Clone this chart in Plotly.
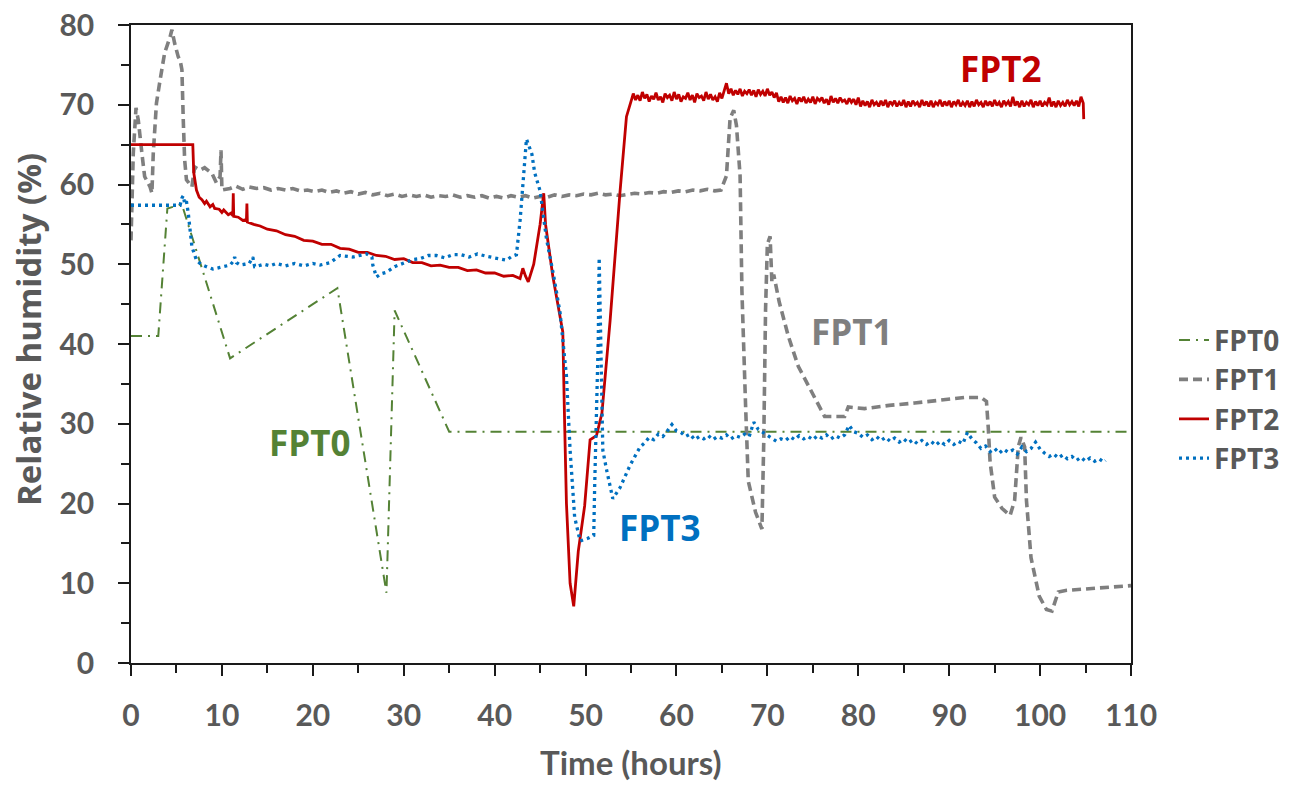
import plotly.graph_objects as go

# ---------------- data: (time in hours, relative humidity %) ----------------
fpt0_pts = [(0, 41), (3, 41), (4, 57), (5.6, 57.5), (10.9, 38.2), (22.7, 47), (28.1, 8.8),
            (29, 44.2), (35, 29), (110, 29)]

fpt1_pts = [(0, 53), (0.25, 63.9), (0.55, 69.6), (0.8, 68.1), (1.2, 63.9), (1.5, 61), (2.1, 59.7),
            (2.3, 58.9), (2.45, 63.9), (2.8, 70.2), (3.2, 73.1), (3.7, 76.5), (4.3, 78.5), (4.5, 79.4),
            (4.8, 77.7), (5.2, 76), (5.4, 75.6), (5.6, 74.4), (5.75, 68.1), (5.9, 63.1), (6.1, 60.6),
            (6.7, 59.7), (7.0, 62.2), (7.6, 61.8), (8.1, 62.1), (8.9, 61.4), (9.4, 60.2), (9.8, 61),
            (9.9, 64.3), (10.0, 59.3), (10.9, 59.5), (11.5, 59.8), (12.3, 59.4), (13, 59.7),
            (13.8, 59.5), (14.6, 59.6), (15.4, 59.3), (16.2, 59.5), (17, 59.3), (17.8, 59.5),
            (18.6, 59.2), (19.4, 59.3), (20.2, 59.1), (21, 59.3), (21.8, 59.0), (22.6, 59.2),
            (23.4, 58.9), (24.2, 59.1), (25, 58.8), (25.8, 59.0), (26.6, 58.7), (27.4, 58.9),
            (28.2, 58.6), (29, 58.8), (29.8, 58.5), (30.6, 58.7), (31.4, 58.5), (32.2, 58.7),
            (33, 58.4), (33.8, 58.6), (34.6, 58.5), (35.4, 58.7), (36.2, 58.4), (37, 58.6),
            (37.8, 58.4), (38.6, 58.6), (39.4, 58.3), (40.2, 58.5), (41, 58.3), (41.8, 58.6),
            (42.6, 58.4), (43.4, 58.6), (44.2, 58.3), (45, 58.5), (45.8, 58.4), (46.6, 58.7),
            (47.4, 58.5), (48.2, 58.7), (49, 58.6), (49.8, 58.8), (50.6, 58.7), (51.4, 58.9),
            (52.2, 58.7), (53, 58.8), (53.8, 58.6), (54.6, 58.7), (55.4, 58.9), (56.2, 58.8),
            (57, 59.0), (57.8, 58.9), (58.6, 59.1), (59.4, 59.0), (60.2, 59.2), (61, 59.1),
            (61.8, 59.3), (62.6, 59.2), (63.4, 59.4), (64.2, 59.2), (64.9, 59.3), (65.5, 61.1),
            (65.9, 68.3), (66.3, 69.3), (66.6, 67.4), (67, 61.1), (67.2, 46.7), (67.6, 32.4),
            (67.9, 22.8), (68.7, 18.9), (69.4, 16.8), (69.6, 27.6), (69.8, 44.3), (70, 52.5),
            (70.3, 53.5), (70.5, 47.7), (70.7, 48.7), (71.3, 45.3), (72.3, 41), (73.4, 37.2),
            (74.5, 34.8), (75.6, 32.4), (76.3, 30.9), (78.5, 30.9), (78.9, 32.1), (80.7, 31.9),
            (83.4, 32.3), (86.2, 32.6), (89, 32.9), (91.7, 33.3), (93.5, 33.3), (94.1, 32.8),
            (94.3, 29.5), (94.5, 25.2), (95, 20.8), (95.8, 19.4), (96.7, 18.5), (97.2, 20.4),
            (97.6, 27.1), (97.9, 28.3), (98.3, 27.1), (98.5, 20.4), (99, 13.2), (99.9, 8.4),
            (100.7, 6.7), (101.3, 6.5), (102, 8.9), (102.8, 9.1), (110, 9.7)]

fpt2_pts = [(0, 65), (6.8, 65), (6.9, 61.5), (7.2, 59.3), (7.5, 58.4), (7.8, 58.1), (8.1, 57.6),
            (8.3, 57.9), (8.7, 57.2), (9.0, 57.5), (9.2, 57.0), (9.7, 56.9), (10.0, 56.5),
            (10.2, 56.8), (10.7, 56.2), (11.0, 56.4), (11.2, 56.1), (11.25, 58.9), (11.3, 56.0),
            (11.8, 55.9), (12.3, 55.5), (12.7, 55.6), (12.75, 57.6), (12.8, 55.3), (13.5, 55.0),
            (14.2, 54.8), (15, 54.4), (16, 54.2), (17, 53.7), (18, 53.5), (19, 53.0), (20, 52.9),
            (21, 52.5), (22, 52.5), (23, 52.0), (24, 51.9), (25, 51.5), (26, 51.5), (27, 51.1),
            (28, 51.0), (29, 50.6), (30, 50.7), (31, 50.2), (32, 50.2), (33, 49.8), (34, 49.9),
            (35, 49.6), (36, 49.6), (37, 49.2), (38, 49.3), (39, 48.9), (40, 48.9), (41, 48.5),
            (42, 48.6), (42.8, 48.2), (43.1, 49.5), (43.4, 48.5), (43.7, 47.8), (44.3, 50),
            (45, 55), (45.4, 58.9), (45.6, 55), (46.4, 48.5), (47.2, 43), (47.5, 41.5),
            (47.7, 30), (47.9, 20), (48.3, 10), (48.7, 7.1), (49.2, 14), (49.9, 19.7), (50.5, 28),
            (51.2, 28.5), (51.8, 31.3), (52.7, 42.9), (53.8, 59.2), (54.5, 68.5), (55.1, 70.8),
            (55.25, 71.4), (55.5, 70.6), (55.75, 71.2), (56, 70.5), (56.25, 71.6), (56.5, 70.8),
            (56.75, 71.3), (57, 70.4), (57.25, 71.1), (57.5, 70.7), (57.75, 71.5), (58, 70.6),
            (58.25, 71.0), (58.5, 70.3), (58.75, 71.4), (59, 70.9), (59.25, 71.2), (59.5, 70.5),
            (59.75, 71.6), (60, 70.7), (60.25, 71.3), (60.5, 70.4), (60.75, 71.0), (61, 70.8),
            (61.25, 71.5), (61.5, 70.6), (61.75, 71.2), (62, 70.3), (62.25, 71.4), (62.5, 70.9),
            (62.75, 71.1), (63, 70.5), (63.25, 71.6), (63.5, 70.7), (63.75, 71.3), (64, 70.6),
            (64.25, 71.0), (64.5, 70.4), (64.75, 71.5), (65, 70.8),
            (65.25, 71.9), (65.5, 72.7), (65.75, 71.4), (66, 72.0), (66.25, 71.2), (66.5, 71.8),
            (66.75, 71.3), (67, 72.0), (67.25, 71.1), (67.5, 71.7), (67.75, 71.4), (68, 71.9),
            (68.25, 71.2), (68.5, 71.8), (68.75, 71.0), (69, 71.9), (69.25, 71.3), (69.5, 71.7),
            (69.75, 71.1), (70, 72.0), (70.25, 71.2), (70.5, 71.6), (70.75, 70.9), (71, 71.5),
            (71.25, 70.4), (71.5, 71.0), (71.75, 70.3), (72, 70.9), (72.25, 70.2), (72.5, 71.1),
            (72.75, 70.5), (73, 70.8), (73.25, 70.1), (73.5, 70.9), (73.75, 70.4), (74, 71.0),
            (74.25, 70.2), (74.5, 70.7), (74.75, 70.3), (75, 71.0), (75.25, 70.1), (75.5, 70.8),
            (75.75, 70.5), (76, 70.9), (76.25, 70.2), (76.5, 70.7), (76.75, 70.0), (77, 71.1),
            (77.25, 70.3), (77.5, 70.8), (77.75, 70.2), (78, 70.9), (78.25, 70.4), (78.5, 70.6),
            (78.75, 70.1), (79, 70.8), (79.25, 70.3), (79.5, 70.7), (79.75, 70.0), (80, 70.9),
            (80.25, 69.8), (80.5, 70.5), (80.75, 69.9), (81, 70.4), (81.25, 69.7), (81.5, 70.6),
            (81.75, 70.0), (82, 70.3), (82.25, 69.8), (82.5, 70.5), (82.75, 69.9), (83, 70.6),
            (83.25, 69.7), (83.5, 70.4), (83.75, 70.0), (84, 70.5), (84.25, 69.8), (84.5, 70.3),
            (84.75, 69.9), (85, 70.6), (85.25, 69.7), (85.5, 70.4), (85.75, 69.8), (86, 70.5),
            (86.25, 70.0), (86.5, 70.3), (86.75, 69.7), (87, 70.6), (87.25, 69.9), (87.5, 70.4),
            (87.75, 69.8), (88, 70.5), (88.25, 69.7), (88.5, 70.3), (88.75, 70.0), (89, 70.6),
            (89.25, 69.8), (89.5, 70.4), (89.75, 69.9), (90, 70.5), (90.25, 69.7), (90.5, 70.4),
            (90.75, 70.0), (91, 70.6), (91.25, 69.8), (91.5, 70.3), (91.75, 69.9), (92, 70.5),
            (92.25, 69.7), (92.5, 70.4), (92.75, 69.8), (93, 70.6), (93.25, 70.0), (93.5, 70.3),
            (93.75, 69.7), (94, 70.5), (94.25, 69.9), (94.5, 70.4), (94.75, 69.8), (95, 70.6),
            (95.25, 69.9), (95.5, 70.3), (95.75, 69.7), (96, 70.5), (96.25, 70.0), (96.5, 70.4),
            (96.75, 69.8), (97, 71.0), (97.25, 69.9), (97.5, 70.4), (97.75, 69.7), (98, 70.5),
            (98.25, 69.8), (98.5, 70.3), (98.75, 70.0), (99, 70.6), (99.25, 69.7), (99.5, 70.4),
            (99.75, 69.9), (100, 70.5), (100.25, 69.8), (100.5, 70.3), (100.75, 70.0), (101, 70.9),
            (101.25, 69.8), (101.5, 70.4), (101.75, 69.7), (102, 70.5), (102.25, 69.9), (102.5, 70.3),
            (102.75, 69.8), (103, 70.6), (103.25, 70.0), (103.5, 70.4), (103.75, 69.9), (104, 70.5),
            (104.25, 69.8), (104.5, 71.0), (104.75, 70.2), (104.8, 68.2)]

fpt3_pts = [(0, 57.4), (5.4, 57.4), (5.6, 58.3), (5.75, 58.6), (5.9, 57.6), (6.1, 57.9), (6.3, 56.4),
            (6.5, 53.9), (6.7, 52.2), (7.2, 50.5), (7.7, 50.0), (8.3, 49.7), (9, 49.4), (9.8, 49.6),
            (10.4, 49.8), (10.9, 49.9), (11.2, 50.3), (11.4, 50.9), (11.6, 50.2), (12, 49.9),
            (12.5, 50.0), (13, 50.1), (13.4, 50.9), (13.6, 49.7), (14, 49.8), (14.6, 50.0),
            (15.3, 49.8), (16, 50.1), (17, 49.8), (18, 50.1), (19, 49.8), (20, 50.1), (20.8, 49.9),
            (21.9, 50.2), (23, 51.1), (24.4, 50.9), (25.9, 51.3), (26.5, 50.9), (26.6, 49.9),
            (27, 48.4), (27.5, 48.8), (28.1, 49.0), (29, 49.7), (30, 50.2), (31, 50.6), (31.8, 50.7),
            (32.7, 51.1), (33.6, 51.1), (34.5, 50.8), (35.4, 51.2), (36.3, 51.2), (37.2, 50.9),
            (38.1, 51.3), (39.1, 51.0), (40.2, 50.8), (41.3, 50.5), (41.9, 51.0), (42.4, 51.2),
            (42.8, 55.5), (43.1, 59.7), (43.5, 65.7), (44.1, 63.8), (44.4, 61.5), (45, 59.2),
            (45.7, 53.2), (46.5, 48.5), (47.2, 43.9), (47.9, 36), (48.3, 26.7), (48.8, 18.3),
            (49.4, 15.3), (50.2, 15.6), (50.9, 16), (51, 22), (51.4, 40.6), (51.5, 50.8),
            (51.9, 26.7), (52.3, 24.3), (53, 20.6), (53.8, 22), (54.9, 24.8),
            (56, 27.1), (56.5, 27.6), (57, 28.3), (57.5, 28.0), (58, 28.7), (58.5, 28.4), (59, 29.1),
            (59.5, 29.9), (60, 29.1), (60.5, 28.9), (61, 28.4), (61.5, 28.7), (62, 28.0), (62.5, 28.4),
            (63, 28.1), (63.5, 28.5), (64, 28.0), (64.5, 28.4), (65, 28.2), (65.5, 28.6), (66, 28.1),
            (66.5, 28.5), (67, 28.3), (67.5, 28.7), (68, 28.4), (68.5, 30.2), (69, 29.3), (69.5, 28.9),
            (70, 28.5), (70.5, 28.2), (71, 27.8), (71.5, 28.1), (72, 27.9), (72.5, 28.4), (73, 28.0),
            (73.5, 28.5), (74, 28.1), (74.5, 28.4), (75, 28.0), (75.5, 28.5), (76, 28.2), (76.5, 28.6),
            (77, 28.1), (77.5, 28.5), (78, 28.2), (78.5, 28.6), (79, 29.8), (79.5, 29.0), (80, 28.8),
            (80.5, 28.3), (81, 28.6), (81.5, 28.0), (82, 28.4), (82.5, 27.9), (83, 28.3), (83.5, 27.8),
            (84, 28.2), (84.5, 27.7), (85, 28.1), (85.5, 27.6), (86, 28.0), (86.5, 27.5), (87, 27.9),
            (87.5, 27.4), (88, 27.8), (88.5, 27.3), (89, 27.8), (89.5, 27.4), (90, 27.9), (90.5, 27.4),
            (91, 27.8), (91.5, 27.5), (92, 28.9), (92.5, 28.1), (93, 27.6), (93.5, 26.9), (94, 27.2),
            (94.5, 26.5), (95, 26.9), (95.5, 26.3), (96, 26.8), (96.5, 26.4), (97, 26.7), (97.5, 26.2),
            (98, 27.1), (98.5, 26.5), (99, 26.9), (99.5, 27.7), (100, 26.8), (100.5, 26.3), (101, 25.9),
            (101.5, 26.2), (102, 25.7), (102.5, 26.1), (103, 25.6), (103.5, 25.9), (104, 25.4),
            (104.5, 25.8), (105, 25.3), (105.5, 25.7), (106, 25.3), (106.5, 25.6), (107, 25.2),
            (107.2, 25.4)]

series_names = ["FPT0", "FPT1", "FPT2", "FPT3"]
x_ticks = [0, 10, 20, 30, 40, 50, 60, 70, 80, 90, 100, 110]
y_ticks = [0, 10, 20, 30, 40, 50, 60, 70, 80]

# ---------------- styling ----------------
GREEN = "#548235"
GREY = "#7F7F7F"
RED = "#C00000"
BLUE = "#0070C0"
TXT = "#595959"
AXC = "#1a1a1a"


def unzip(pts):
    return [p[0] for p in pts], [p[1] for p in pts]


fig = go.Figure()
styles = [
    (fpt0_pts, dict(color=GREEN, width=2, dash="11px,6px,2px,6px")),
    (fpt1_pts, dict(color=GREY, width=3.6, dash="9px,5px")),
    (fpt2_pts, dict(color=RED, width=2.8)),
    (fpt3_pts, dict(color=BLUE, width=3.3, dash="3px,4px")),
]
for name, (pts, ln) in zip(series_names, styles):
    xs, ys = unzip(pts)
    fig.add_trace(go.Scatter(x=xs, y=ys, name=name, mode="lines", line=ln))

ann_font = dict(family="Open Sans", size=35, weight="bold")
labels = [("FPT2", 95.6, 74.5, RED), ("FPT1", 79.3, 41.6, GREY),
          ("FPT0", 19.6, 27.6, GREEN), ("FPT3", 58.1, 17.05, BLUE)]
for txt, ax_, ay_, col in labels:
    fig.add_annotation(x=ax_, y=ay_, text=txt, showarrow=False,
                       font=dict(ann_font, color=col), xanchor="center", yanchor="middle")

fig.add_annotation(xref="paper", yref="paper", x=0.5, y=-0.155, text="Time (hours)",
                   showarrow=False, xanchor="center", yanchor="middle",
                   font=dict(family="Lato", size=33, weight="bold", color=TXT))
fig.add_annotation(xref="paper", yref="paper", x=-0.102, y=0.522, text="Relative humidity (%)",
                   showarrow=False, xanchor="center", yanchor="middle", textangle=-90,
                   font=dict(family="Open Sans", size=33, weight="bold", color=TXT))

axis_common = dict(showgrid=False, zeroline=False, showline=True, linecolor=AXC,
                   linewidth=1.5, mirror=True, ticks="outside", ticklen=11, tickwidth=1.5,
                   tickcolor=AXC, automargin=False)
minor_ticks = dict(dtick=5, tick0=0, ticks="outside", ticklen=8, tickwidth=1.5, tickcolor=AXC)
fig.update_xaxes(range=[0, 110], tickvals=x_ticks, ticktext=[str(v) for v in x_ticks],
                 tickfont=dict(family="Lato", size=30, weight="bold", color=TXT),
                 ticklabelstandoff=14, minor=minor_ticks, **axis_common)
fig.update_yaxes(range=[0, 80], tickvals=y_ticks, ticktext=[str(v) for v in y_ticks],
                 tickfont=dict(family="Lato", size=30, weight="bold", color=TXT),
                 ticklabelstandoff=18, minor=minor_ticks, **axis_common)

fig.update_layout(
    width=1308, height=787,
    margin=dict(l=131, r=177, t=25, b=124, autoexpand=False),
    paper_bgcolor="white", plot_bgcolor="white",
    legend=dict(x=1.043, y=0.545, xanchor="left", yanchor="top",
                font=dict(family="Open Sans", size=28, weight="bold", color=TXT),
                bgcolor="rgba(0,0,0,0)", tracegroupgap=0, itemwidth=30),
    showlegend=True,
)

fig.write_html("out.html")
